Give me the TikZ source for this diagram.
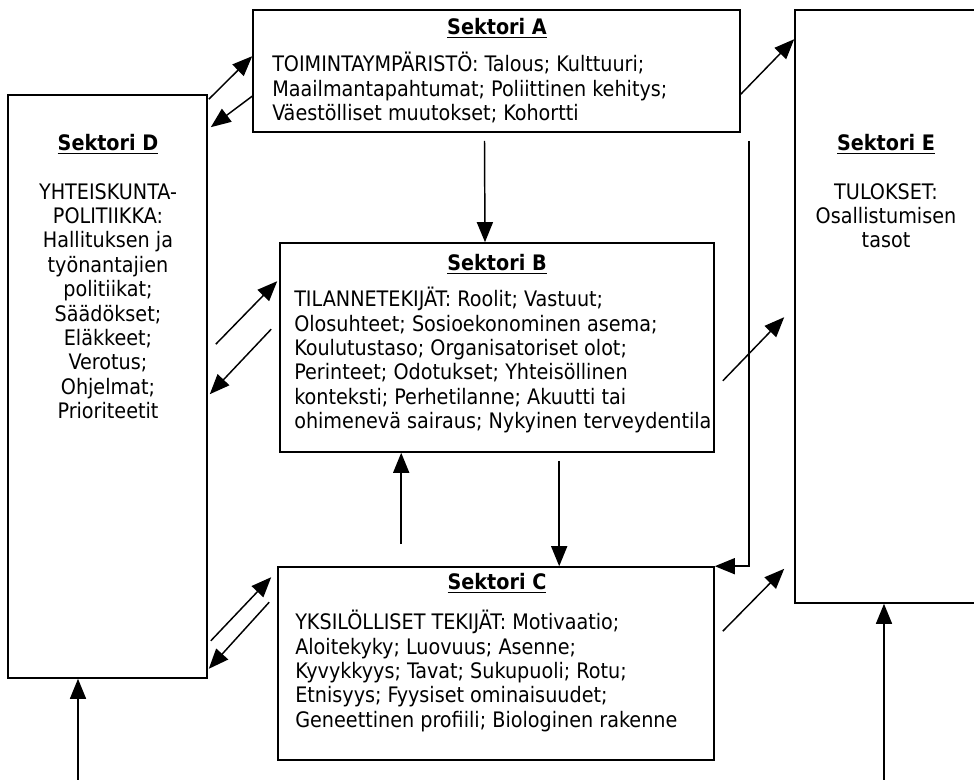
\documentclass[tikz,border=0pt]{standalone}
\usepackage{fontspec}
\setmainfont{DejaVu Sans Condensed}
\usetikzlibrary{arrows.meta, positioning, calc, fit}
\newcommand{\sekfont}{\fontsize{16}{18.3}\selectfont}

\begin{document}
\begin{tikzpicture}[x=0.75pt, y=-0.75pt,
  font=\sekfont,
  box/.style={draw, line width=1.2pt, inner sep=0pt},
  title/.style={font=\sekfont\bfseries, inner sep=0pt},
  body/.style={align=left, inner sep=0pt},
  arr/.style={-{Triangle[length=15pt, width=12pt]}, line width=1.1pt}]
  \clip (0,0) rectangle (974,780);
  % boxes
  \node[box, fit={(253,10) (740,132)}] (A) {};
  \node[box, fit={(8,95) (207,678)}] (D) {};
  \node[box, fit={(280,243) (714,452)}] (B) {};
  \node[box, fit={(278,567) (714,760)}] (C) {};
  \node[box, fit={(795,10) (990,603)}] (E) {};
  % texts
  \node[title] (At) at (497,28) {\underline{Sektori A}};
  \node[body, anchor=north west] (Ab) at (272,52)
    {TOIMINTAYMPÄRISTÖ: Talous; Kulttuuri;\\
     Maailmantapahtumat; Poliittinen kehitys;\\
     Väestölliset muutokset; Kohortti};
  \node[title] (Dt) at (108,144) {\underline{Sektori D}};
  \node[body, align=center, anchor=north] (Db) at (108,183)
    {YHTEISKUNTA-\\POLITIIKKA:\\Hallituksen ja\\työnantajien\\politiikat;\\
     Säädökset;\\Eläkkeet;\\Verotus;\\Ohjelmat;\\Prioriteetit};
  \node[title] (Bt) at (497,264) {\underline{Sektori B}};
  \node[body, anchor=north west] (Bb) at (294,287)
    {TILANNETEKIJÄT: Roolit; Vastuut;\\
     Olosuhteet; Sosioekonominen asema;\\
     Koulutustaso; Organisatoriset olot;\\
     Perinteet; Odotukset; Yhteisöllinen\\
     konteksti; Perhetilanne; Akuutti tai\\
     ohimenevä sairaus; Nykyinen terveydentila};
  \node[title] (Ct) at (497,583) {\underline{Sektori C}};
  \node[body, anchor=north west] (Cb) at (295,610)
    {YKSILÖLLISET TEKIJÄT: Motivaatio;\\
     Aloitekyky; Luovuus; Asenne;\\
     Kyvykkyys; Tavat; Sukupuoli; Rotu;\\
     Etnisyys; Fyysiset ominaisuudet;\\
     Geneettinen profiili; Biologinen rakenne};
  \node[title] (Et) at (886,144) {\underline{Sektori E}};
  \node[body, align=center, anchor=north] (Eb) at (886,183)
    {TULOKSET:\\Osallistumisen\\tasot};
  % connectors
  \draw[arr] ($(D.north east)+(1,5)$) -- ($(A.north west)+(0,47)$);
  \draw[arr] ($(A.north west)+(0,87)$) -- ($(D.north east)+(3,33)$);
  \draw[arr] ($(A.south)+(-12,8)$) -- ($(B.north)+(-12,0)$);
  \draw[arr] ($(A.north east)+(0,85)$) -- ($(E.north west)+(0,30)$);
  \draw[arr] ($(A.south east)+(8,8)$) |- (C.north east);
  \draw[arr] ($(D.north east)+(8,250)$) -- ($(B.north west)+(-2,39)$);
  \draw[arr] ($(B.north west)+(-8,87)$) -- ($(D.north east)+(2,300)$);
  \draw[arr] ($(B.south east)+(8,-72)$) -- ($(E.north west)+(-10,308)$);
  \draw[arr] ($(C.north west)+(124,-22)$) -- ($(B.south west)+(122,0)$);
  \draw[arr] ($(B.south west)+(280,8)$) -- ($(C.north west)+(282,0)$);
  \draw[arr] ($(D.south east)+(3,-38)$) -- ($(C.north west)+(-6,11)$);
  \draw[arr] ($(C.north west)+(-8,36)$) -- ($(D.south east)+(1,-10)$);
  \draw[arr] ($(C.north east)+(8,65)$) -- ($(E.south west)+(-10,-35)$);
  \coordinate (dIn) at (78,780);
  \coordinate (eIn) at (884,780);
  \draw[arr] (dIn) -- (dIn |- D.south);
  \draw[arr] (eIn) -- (eIn |- E.south);
\end{tikzpicture}
\end{document}
